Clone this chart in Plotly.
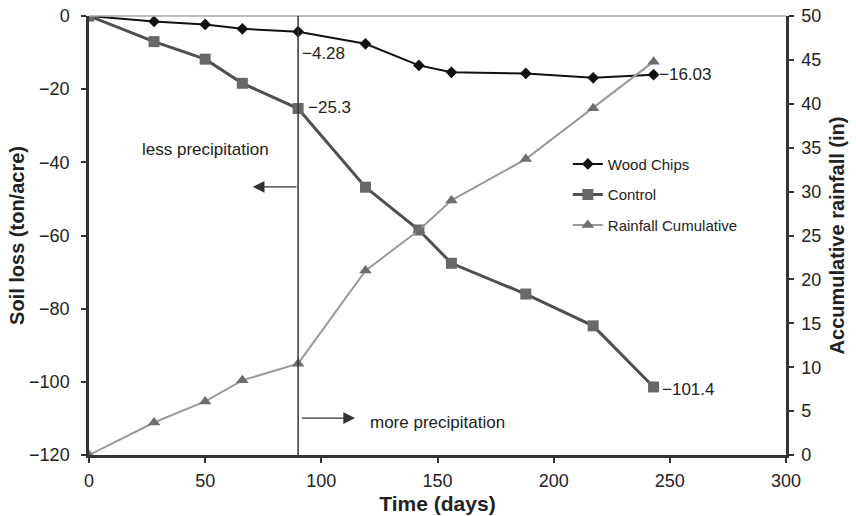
import plotly.graph_objects as go

days = [0, 28, 50, 66, 90, 119, 142, 156, 188, 217, 243]
wood_chips = [0, -1.5, -2.3, -3.5, -4.28, -7.6, -13.5, -15.4, -15.7, -16.9, -16.03]
control = [0, -7.0, -11.8, -18.4, -25.3, -46.8, -58.5, -67.6, -76.0, -84.7, -101.4]
rainfall = [0, 3.7, 6.1, 8.5, 10.4, 21.0, 25.6, 29.0, 33.7, 39.5, 44.8]

x_ticks = [0, 50, 100, 150, 200, 250, 300]
y_left_ticks = [0, -20, -40, -60, -80, -100, -120]
y_right_ticks = list(range(0, 55, 5))
split_day = 90

FONT = "Liberation Sans, Arial, sans-serif"
INK = "#222222"
AXIS = "#333333"

fig = go.Figure()
fig.add_trace(go.Scatter(x=days, y=wood_chips, name="Wood Chips", mode="lines+markers",
                         line=dict(color="#111111", width=2),
                         marker=dict(symbol="diamond", size=9, color="#111111"),
                         legendgroup="a", xaxis="x", yaxis="y"))
fig.add_trace(go.Scatter(x=days, y=control, name="Control", mode="lines+markers",
                         line=dict(color="#505050", width=3),
                         marker=dict(symbol="square", size=11, color="#686868"),
                         legendgroup="b", xaxis="x", yaxis="y"))
fig.add_trace(go.Scatter(x=days, y=rainfall, name="Rainfall Cumulative", mode="lines+markers",
                         line=dict(color="#9a9a9a", width=2),
                         marker=dict(symbol="triangle-up", size=11, color="#6e6e6e"),
                         legendgroup="c", xaxis="x", yaxis="y2"))

tick_font = dict(family=FONT, size=18, color=INK)
title_font = dict(family=FONT, size=20, color=INK)
axis_common = dict(showgrid=False, zeroline=False, tickfont=tick_font, automargin=False,
                   tickcolor=AXIS, tickwidth=2, ticklen=5)

fig.update_layout(
    width=856, height=516,
    margin=dict(l=89, r=70, t=16, b=61),
    paper_bgcolor="white", plot_bgcolor="white",
    font=dict(family=FONT, color=INK),
    xaxis=dict(range=[0, 300], tickvals=x_ticks, ticks="outside", showline=True,
               linecolor=AXIS, linewidth=2.5, ticklabelstandoff=3,
               title=dict(text="<b>Time (days)</b>", font=dict(family=FONT, size=21, color=INK), standoff=6),
               **axis_common),
    xaxis2=dict(range=[0, 300], tickvals=x_ticks, ticks="inside", overlaying="x", anchor="y",
                side="bottom", showticklabels=False, showline=False, **axis_common),
    yaxis=dict(range=[-120, 0], tickvals=y_left_ticks, ticks="outside", showline=True,
               linecolor=AXIS, linewidth=2.5, ticklabelstandoff=8,
               title=dict(text="<b>Soil loss (ton/acre)</b>", font=title_font, standoff=0),
               **axis_common),
    yaxis3=dict(range=[-120, 0], tickvals=y_left_ticks, ticks="inside", overlaying="y", anchor="x",
                side="left", showticklabels=False, showline=False, **axis_common),
    yaxis2=dict(range=[0, 50], tickvals=y_right_ticks, ticks="outside", overlaying="y", side="right",
                anchor="x", showline=True, linecolor=AXIS, linewidth=2.5, ticklabelstandoff=4,
                title=dict(text="<b>Accumulative rainfall (in)</b>", font=title_font, standoff=10),
                **axis_common),
    yaxis4=dict(range=[0, 50], tickvals=y_right_ticks, ticks="inside", overlaying="y", side="right",
                anchor="x", showticklabels=False, showline=False, **axis_common),
    legend=dict(x=0.687, y=0.70, xanchor="left", yanchor="top", bgcolor="rgba(0,0,0,0)",
                font=dict(family=FONT, size=15, color=INK), tracegroupgap=8, itemwidth=30),
    showlegend=True,
)

fig.add_shape(type="line", xref="paper", yref="paper", x0=0, x1=1, y0=1, y1=1,
              line=dict(color="#aaaaaa", width=1.5))
fig.add_shape(type="line", xref="x", yref="paper", x0=split_day, x1=split_day, y0=0, y1=1,
              line=dict(color=AXIS, width=1.5))

lab_font = dict(family=FONT, size=17, color=INK)
fig.add_annotation(x=days[4], y=wood_chips[4], text="−4.28", showarrow=False, xanchor="left",
                   yanchor="middle", xshift=2, yshift=-22, font=lab_font)
fig.add_annotation(x=days[4], y=control[4], text="−25.3", showarrow=False, xanchor="left",
                   yanchor="middle", xshift=8, yshift=1, font=lab_font)
fig.add_annotation(x=days[-1], y=wood_chips[-1], text="−16.03", showarrow=False, xanchor="left",
                   yanchor="middle", xshift=3, yshift=0, font=lab_font)
fig.add_annotation(x=days[-1], y=control[-1], text="−101.4", showarrow=False, xanchor="left",
                   yanchor="middle", xshift=6, yshift=-3, font=lab_font)

fig.add_annotation(x=50, y=-36.4, text="less precipitation", showarrow=False, font=lab_font)
fig.add_annotation(x=70.5, y=-46.7, ax=split_day, ay=-46.7, axref="x", ayref="y", xref="x", yref="y",
                   text="", showarrow=True, arrowhead=2, arrowsize=1.8, arrowwidth=1.3, arrowcolor=AXIS)
fig.add_annotation(x=120, y=-111, text="more precipitation", showarrow=False, xanchor="left",
                   font=lab_font)
fig.add_annotation(x=114.5, y=-109.9, ax=split_day + 1, ay=-109.9, axref="x", ayref="y", xref="x", yref="y",
                   text="", showarrow=True, arrowhead=2, arrowsize=1.8, arrowwidth=1.3, arrowcolor=AXIS)

fig.write_html("out.html", config={"displayModeBar": False},
               post_script="document.body.style.margin='0px';")
